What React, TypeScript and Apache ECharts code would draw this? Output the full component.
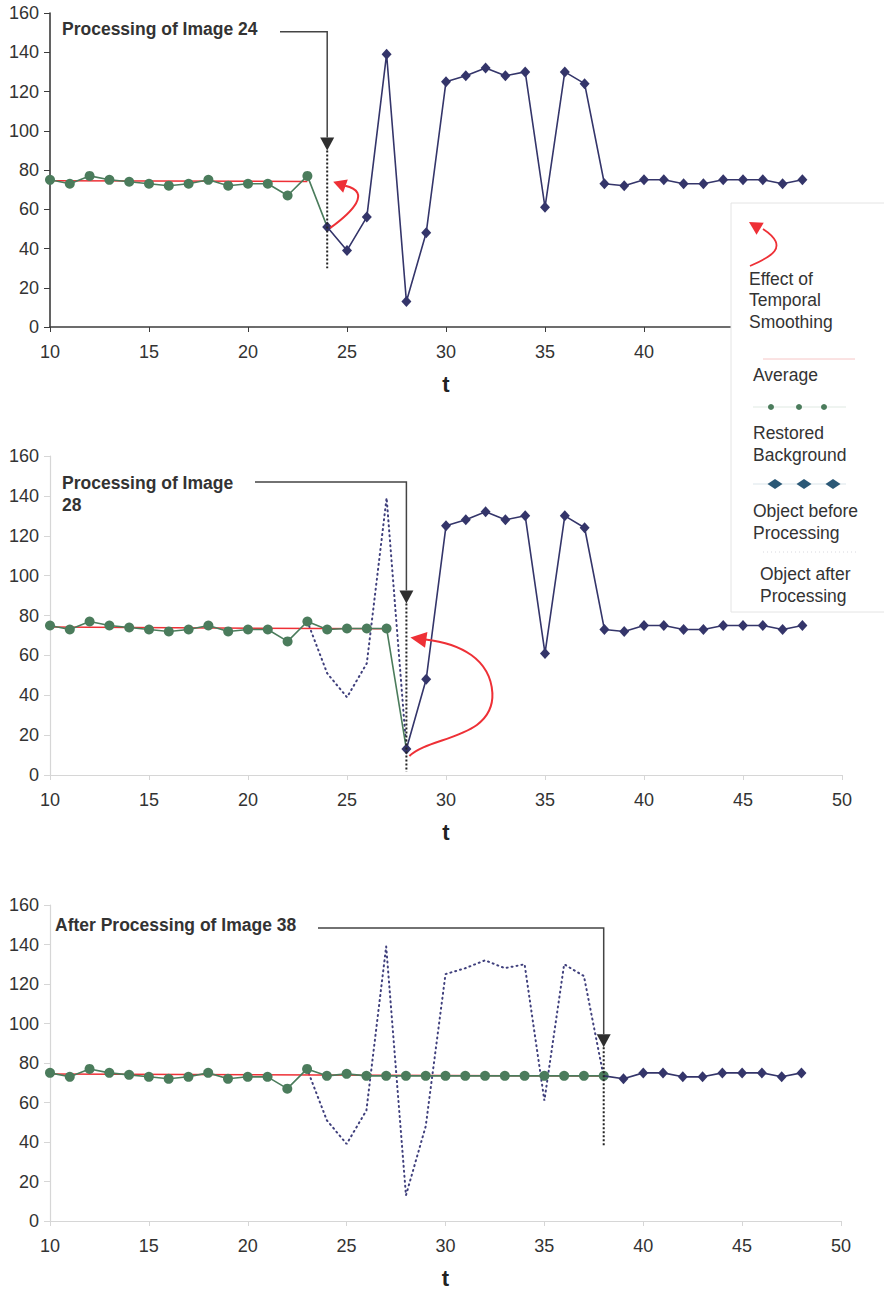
import React, { useEffect, useRef } from "react";
import * as echarts from "echarts";

const FONT = "'Liberation Sans', Arial, Helvetica, sans-serif";

// ---- data (t starts noted per array) ----
const AVG_TOP_T = [10, 23];
const AVG_TOP_V = [74.5, 74.2];
const BG_TOP_START = 10;
const BG_TOP = [75, 73, 77, 75, 74, 73, 72, 73, 75, 72, 73, 73, 67, 77, 51];
const OBJ_TOP_START = 24;
const OBJ_TOP = [51, 39, 56, 139, 13, 48, 125, 128, 132, 128, 130, 61, 130, 124, 73, 72, 75, 75, 73, 73, 75, 75, 75, 73, 75];

const AVG_MID_T = [10, 27];
const AVG_MID_V = [74.2, 73.3];
const BG_MID_START = 10;
const BG_MID = [75, 73, 77, 75, 74, 73, 72, 73, 75, 72, 73, 73, 67, 77, 73, 73.5, 73.5, 73.5, 13];
const ORIG_MID_START = 23;
const ORIG_MID = [77, 51, 39, 56, 139, 13];
const OBJ_MID_START = 28;
const OBJ_MID = [13, 48, 125, 128, 132, 128, 130, 61, 130, 124, 73, 72, 75, 75, 73, 73, 75, 75, 75, 73, 75];

const AVG_BOT_T = [10, 38];
const AVG_BOT_V = [74.4, 73.4];
const BG_BOT_START = 10;
const BG_BOT = [75, 73, 77, 75, 74, 73, 72, 73, 75, 72, 73, 73, 67, 77, 73.5, 74.5, 73.5, 73.5, 73.5, 73.5, 73.5, 73.5, 73.5, 73.5, 73.5, 73.5, 73.5, 73.5, 73.5];
const ORIG_BOT_START = 23;
const ORIG_BOT = [77, 51, 39, 56, 139, 13, 48, 125, 128, 132, 128, 130, 61, 130, 124, 73];
const OBJ_BOT_START = 38;
const OBJ_BOT = [73.5, 72, 75, 75, 73, 73, 75, 75, 75, 73, 75];

const X_MIN = 10, X_MAX = 50, X_STEP = 5;
const Y_MIN = 0, Y_MAX = 160, Y_STEP = 20;

const LEGEND_LABELS = [
  ["Effect of", "Temporal", "Smoothing"],
  ["Average"],
  ["Restored", "Background"],
  ["Object before", "Processing"],
  ["Object after", "Processing"],
];

const ANNOTATIONS = [
  { grid: 0, t: 24, lines: ["Processing of Image 24"], lineV: 150.5, tipV: 90, dotEndV: 30 },
  { grid: 1, t: 28, lines: ["Processing of Image", "28"], lineV: 147, tipV: 86, dotEndV: 1.6 },
  { grid: 2, t: 38, lines: ["After Processing of Image 38"], lineV: 148.4, tipV: 88, dotEndV: 37.5 },
];

const GREEN = "#4b7c5c";
const NAVY = "#34356a";
const RED = "#ee3036";
const DOTTED = "#3f3f7c";

const pairs = (start: number, vals: number[]) => vals.map((v, i) => [start + i, v]);
const zip = (ts: number[], vs: number[]) => ts.map((t, i) => [t, vs[i]]);

function App() {
  const ref = useRef<HTMLDivElement>(null);
  useEffect(() => {
    document.body.style.margin = "0";
    const chart = echarts.init(ref.current!, null, { renderer: "svg" });

    const grids = [
      { left: 50, top: 13, width: 792, height: 314 },
      { left: 50, top: 456, width: 792, height: 319 },
      { left: 50, top: 905, width: 791, height: 316 },
    ];
    const dark = [true, false, false];
    const xAxes = grids.map((_, g) => ({
      gridIndex: g,
      type: "value",
      min: X_MIN,
      max: X_MAX,
      interval: X_STEP,
      name: "t",
      nameLocation: "middle",
      nameGap: 46,
      nameTextStyle: { fontFamily: FONT, fontSize: 22, fontWeight: "bold", color: "#222" },
      axisLine: { show: true, onZero: false, lineStyle: { color: dark[g] ? "#3c3c3c" : "#d6d6d6", width: dark[g] ? 1.6 : 1.2 } },
      axisTick: { show: true, length: 5, lineStyle: { color: dark[g] ? "#3c3c3c" : "#d6d6d6" } },
      axisLabel: { fontFamily: FONT, fontSize: 18, color: "#333", margin: 16 },
      splitLine: { show: false },
    }));
    const yAxes = grids.map((_, g) => ({
      gridIndex: g,
      type: "value",
      min: Y_MIN,
      max: Y_MAX,
      interval: Y_STEP,
      axisLine: { show: true, lineStyle: { color: dark[g] ? "#3c3c3c" : "#d6d6d6", width: dark[g] ? 1.6 : 1.2 } },
      axisTick: { show: true, length: 6, lineStyle: { color: dark[g] ? "#3c3c3c" : "#d6d6d6" } },
      axisLabel: { fontFamily: FONT, fontSize: 18, color: "#333", margin: 11 },
      splitLine: { show: false },
    }));

    const avgSeries = (g: number, data: number[][]) => ({
      type: "line", xAxisIndex: g, yAxisIndex: g, data, symbol: "none",
      lineStyle: { color: RED, width: 1.5 }, z: 2,
    });
    const bgSeries = (g: number, data: number[][], lastNoSymbol: boolean) => ({
      type: "line", xAxisIndex: g, yAxisIndex: g,
      data: data.map((d, i) => (lastNoSymbol && i === data.length - 1 ? { value: d, symbol: "none" } : { value: d })),
      symbol: "circle", symbolSize: 10,
      itemStyle: { color: GREEN },
      lineStyle: { color: GREEN, width: 1.6 }, z: 3,
    });
    const objSeries = (g: number, data: number[][], firstNoSymbol: boolean) => ({
      type: "line", xAxisIndex: g, yAxisIndex: g,
      data: data.map((d, i) => (firstNoSymbol && i === 0 ? { value: d, symbol: "none" } : { value: d })),
      symbol: "diamond", symbolSize: [10, 11],
      itemStyle: { color: NAVY },
      lineStyle: { color: NAVY, width: 1.6 }, z: 4,
    });
    const origSeries = (g: number, data: number[][]) => ({
      type: "line", xAxisIndex: g, yAxisIndex: g, data, symbol: "none",
      lineStyle: { color: DOTTED, width: 2, type: [1, 4], cap: "round" }, z: 1,
    });

    chart.setOption({
      animation: false,
      backgroundColor: "#ffffff",
      grid: grids,
      xAxis: xAxes,
      yAxis: yAxes,
      series: [
        avgSeries(0, zip(AVG_TOP_T, AVG_TOP_V)),
        bgSeries(0, pairs(BG_TOP_START, BG_TOP), true),
        objSeries(0, pairs(OBJ_TOP_START, OBJ_TOP), false),
        origSeries(1, pairs(ORIG_MID_START, ORIG_MID)),
        avgSeries(1, zip(AVG_MID_T, AVG_MID_V)),
        bgSeries(1, pairs(BG_MID_START, BG_MID), true),
        objSeries(1, pairs(OBJ_MID_START, OBJ_MID), false),
        origSeries(2, pairs(ORIG_BOT_START, ORIG_BOT)),
        avgSeries(2, zip(AVG_BOT_T, AVG_BOT_V)),
        bgSeries(2, pairs(BG_BOT_START, BG_BOT), false),
        objSeries(2, pairs(OBJ_BOT_START, OBJ_BOT), true),
      ],
    });

    const px = (g: number, t: number, v: number) => chart.convertToPixel({ gridIndex: g } as any, [t, v]) as number[];
    const elements: any[] = [];

    const textEl = (text: string, x: number, y: number, size: number, bold: boolean, z = 50) => ({
      type: "text", x, y, z,
      style: {
        text, fill: "#333", fontFamily: FONT, fontSize: size, fontWeight: bold ? "bold" : "normal",
        textAlign: "left", textVerticalAlign: "middle", align: "left", verticalAlign: "middle",
      },
    });

    const arrowHead = (tip: number[], from: number[], len: number, half: number, color: string, z = 60) => {
      const dx = tip[0] - from[0], dy = tip[1] - from[1];
      const d = Math.hypot(dx, dy) || 1;
      const ux = dx / d, uy = dy / d;
      const bx = tip[0] - ux * len, by = tip[1] - uy * len;
      return {
        type: "polygon", z,
        shape: { points: [tip, [bx - uy * half, by + ux * half], [bx + uy * half, by - ux * half]] },
        style: { fill: color },
      };
    };

    // annotation text layout (pixels)
    const textLayout = [
      { x: 62, ys: [29], lineStartX: 280 },
      { x: 62, ys: [483, 505], lineStartX: 255 },
      { x: 55, ys: [925], lineStartX: 318 },
    ];

    ANNOTATIONS.forEach((a, i) => {
      const L = textLayout[i];
      a.lines.forEach((s, k) => elements.push(textEl(s, L.x, L.ys[k], 17.5, true)));
      const corner = px(a.grid, a.t, a.lineV);
      const tip = px(a.grid, a.t, a.tipV);
      const dotEnd = px(a.grid, a.t, a.dotEndV);
      const headLen = 13;
      elements.push({
        type: "polyline", z: 55,
        shape: { points: [[L.lineStartX, corner[1]], [tip[0], corner[1]], [tip[0], tip[1] - headLen]] },
        style: { stroke: "#444", lineWidth: 1.5, fill: "none" },
      });
      elements.push(arrowHead(tip, [tip[0], tip[1] - 20], headLen, 7, "#2f2f2f"));
      elements.push({
        type: "line", z: 55,
        shape: { x1: tip[0], y1: tip[1], x2: dotEnd[0], y2: dotEnd[1] },
        style: { stroke: "#222", lineWidth: 2, lineDash: [2, 2] },
      });
    });

    // red smoothing arrows
    {
      const a = px(0, 24, 51);
      const b = px(0, 24, 74);
      const s = [a[0] + 3, a[1] + 1];
      const tip = [b[0] + 6, b[1]];
      const e = [tip[0] + 12, tip[1] + 4];
      elements.push({
        type: "bezierCurve", z: 58,
        shape: { x1: s[0], y1: s[1], cpx1: s[0] + 22, cpy1: s[1] - 16, cpx2: s[0] + 42, cpy2: s[1] - 36, x2: e[0], y2: e[1] },
        style: { stroke: RED, lineWidth: 2, fill: "none" },
      });
      elements.push(arrowHead(tip, [tip[0] + 20, tip[1] + 7], 13, 7, RED));
    }
    {
      const a = px(1, 28, 13);
      const b = px(1, 28, 69);
      const s = [a[0] + 3, a[1] + 7];
      const mid = [a[0] + 86, a[1] - 56];
      const tip = [b[0] + 4, b[1]];
      const e = [tip[0] + 15, tip[1] + 2];
      elements.push({
        type: "bezierCurve", z: 58,
        shape: { x1: s[0], y1: s[1], cpx1: s[0] + 20, cpy1: s[1] - 20, cpx2: mid[0] + 2, cpy2: mid[1] + 46, x2: mid[0], y2: mid[1] },
        style: { stroke: RED, lineWidth: 2, fill: "none" },
      });
      elements.push({
        type: "bezierCurve", z: 58,
        shape: { x1: mid[0], y1: mid[1], cpx1: mid[0] - 2, cpy1: mid[1] - 34, cpx2: e[0] + 35, cpy2: e[1] + 4, x2: e[0], y2: e[1] },
        style: { stroke: RED, lineWidth: 2, fill: "none" },
      });
      elements.push(arrowHead(tip, [tip[0] + 20, tip[1] + 3], 16, 8, RED));
    }

    // legend box
    const LZ = 100;
    elements.push({
      type: "rect", z: LZ,
      shape: { x: 731, y: 203, width: 170, height: 409 },
      style: { fill: "#ffffff", stroke: "#e4e4e4", lineWidth: 1 },
    });
    // legend icon: red curved arrow
    elements.push({
      type: "bezierCurve", z: LZ + 1,
      shape: { x1: 750, y1: 266, cpx1: 768, cpy1: 258, cpx2: 792, cpy2: 248, x2: 763, y2: 229 },
      style: { stroke: RED, lineWidth: 1.8, fill: "none" },
    });
    elements.push(arrowHead([749, 222], [764, 231], 13, 7, RED, LZ + 2));
    // legend texts
    const legendPos = [
      { x: 749, ys: [279, 300, 322] },
      { x: 753, ys: [375] },
      { x: 753, ys: [433, 455] },
      { x: 753, ys: [511, 533] },
      { x: 760, ys: [574, 596] },
    ];
    LEGEND_LABELS.forEach((lines, i) => {
      lines.forEach((s, k) => elements.push(textEl(s, legendPos[i].x, legendPos[i].ys[k], 17.5, false, LZ + 1)));
    });
    // average sample
    elements.push({ type: "line", z: LZ + 1, shape: { x1: 763, y1: 359, x2: 855, y2: 359 }, style: { stroke: "#f6c6c6", lineWidth: 1 } });
    // restored background sample
    elements.push({ type: "line", z: LZ + 1, shape: { x1: 753, y1: 407, x2: 846, y2: 407 }, style: { stroke: "#dfe9e2", lineWidth: 1 } });
    [771, 799, 824].forEach((cx) => elements.push({ type: "circle", z: LZ + 2, shape: { cx, cy: 407, r: 3 }, style: { fill: GREEN } }));
    // object before sample
    elements.push({ type: "line", z: LZ + 1, shape: { x1: 753, y1: 484, x2: 846, y2: 484 }, style: { stroke: "#dbe5ea", lineWidth: 1 } });
    [775, 804, 833].forEach((cx) =>
      elements.push({
        type: "polygon", z: LZ + 2,
        shape: { points: [[cx - 7.5, 484], [cx, 479], [cx + 7.5, 484], [cx, 489]] },
        style: { fill: "#2b5876" },
      })
    );
    // object after sample
    elements.push({ type: "line", z: LZ + 1, shape: { x1: 763, y1: 552, x2: 856, y2: 552 }, style: { stroke: "#d8d8de", lineWidth: 1, lineDash: [1, 3] } });

    chart.setOption({ graphic: { elements } });

    return () => chart.dispose();
  }, []);
  return <div ref={ref} style={{ width: 884, height: 1291 }} />;
}

export default App;
